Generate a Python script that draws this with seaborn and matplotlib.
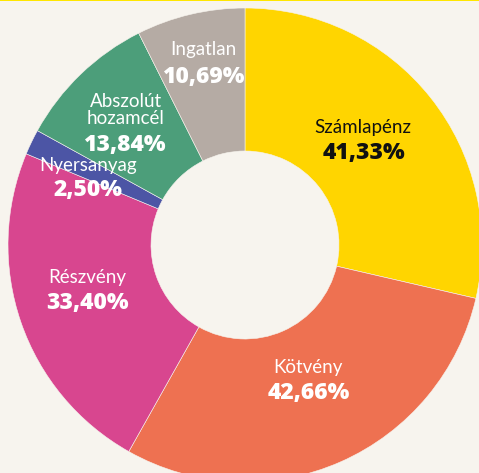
import matplotlib
matplotlib.use("Agg")
import matplotlib.pyplot as plt
from matplotlib.patches import Rectangle
import seaborn as sns

# data
categories = ['Számlapénz', 'Kötvény', 'Részvény', 'Nyersanyag', 'Abszolút\nhozamcél', 'Ingatlan']
values = [41.33, 42.66, 33.40, 2.50, 13.84, 10.69]
colors = ['#FFD500', '#EE7151', '#D8468F', '#4C55A5', '#4C9E7A', '#B5ABA4']
text_colors = ['#111111', 'white', 'white', 'white', 'white', 'white']

# label anchors in pixel coords (x, y from top): name line, percent line
name_pos = [(363, 128), (308, 368), (87, 278), (88, 165), (126, 110), (203, 50)]
pct_pos = [(364, 153), (309, 393), (87, 303), (88, 190), (124, 145), (203, 77)]

BG = '#F7F4EE'
W, H = 479, 473

sns.set_theme(style='white')
plt.rcParams['font.family'] = ['Lato', 'DejaVu Sans']

fig = plt.figure(figsize=(W / 100, H / 100), dpi=100, facecolor=BG)
ax = fig.add_axes([0, 0, 1, 1])
ax.set_facecolor(BG)

wedges, _ = ax.pie(values, colors=colors, startangle=90, counterclock=False,
                   center=(245, H - 245), radius=237,
                   wedgeprops=dict(width=237 - 94, edgecolor=BG, linewidth=0.4))

for name, pct, (nx, ny), (px, py), tc in zip(categories, values, name_pos, pct_pos, text_colors):
    ax.text(nx, H - ny, name, ha='center', va='center', fontsize=13.5,
            color=tc, linespacing=1.05)
    ax.text(px, H - py, f"{pct:.2f}".replace('.', ',') + '%', ha='center', va='center',
            fontsize=16.5, fontweight='heavy', color=tc, family=['Open Sans', 'DejaVu Sans'])

ax.set_xlim(0, W)
ax.set_ylim(0, H)
ax.set_aspect('equal')
ax.axis('off')

# thin yellow rule along the top edge
fig.add_artist(Rectangle((0, 1 - 1.5 / H), 1, 1.5 / H, transform=fig.transFigure,
                         facecolor='#FFE600', edgecolor='none'))

fig.savefig('out.png', dpi=100, facecolor=BG)
